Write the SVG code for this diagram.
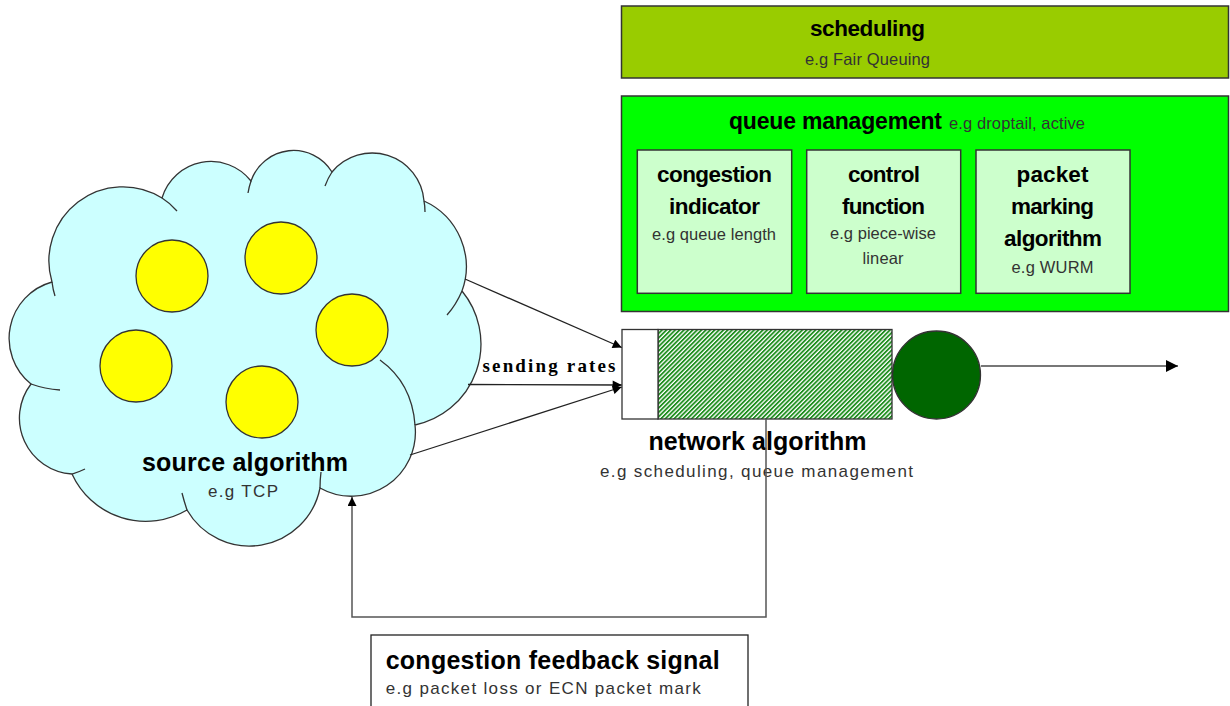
<svg xmlns="http://www.w3.org/2000/svg" width="1230" height="706" viewBox="0 0 1230 706">
  <style>
    .box { stroke: #333; stroke-width: 1.5; }
    .h { font-family: "Liberation Sans", Arial, sans-serif; font-weight: bold; fill: #000; text-anchor: middle; }
    .s { font-family: "Liberation Sans", Arial, sans-serif; fill: #333; text-anchor: middle; }
    .edge { fill: none; stroke: #222; stroke-width: 1.3; }
    .stub { fill: none; stroke: #333; stroke-width: 1.3; }
    .node-yellow { fill: #FFFF00; stroke: #333; stroke-width: 1.3; }
  </style>
  <defs>
    <pattern id="hatch" patternUnits="userSpaceOnUse" width="3.1" height="3.1" patternTransform="rotate(45)">
      <rect width="3.1" height="3.1" fill="#ffffff"/>
      <rect width="1.8" height="3.1" fill="#1f8f1f"/>
    </pattern>
    <marker id="ah" viewBox="0 0 10 10" refX="10" refY="5" markerWidth="11" markerHeight="9" orient="auto" markerUnits="userSpaceOnUse">
      <path d="M0,0 L10,5 L0,10 z" fill="#000"/>
    </marker>
    <marker id="ahBig" viewBox="0 0 10 10" refX="10" refY="5" markerWidth="12" markerHeight="12" orient="auto" markerUnits="userSpaceOnUse">
      <path d="M0,0 L10,5 L0,10 z" fill="#000"/>
    </marker>
  </defs>

  <rect width="1230" height="706" fill="#ffffff"/>

  <!-- source algorithm: cloud of sources -->
  <g id="source-algorithm">
    <path d="M31,384 A58.5,58.5 0 0 1 52,282 A74,74 0 0 1 162,198 A51,51 0 0 1 251,181 A45,45 0 0 1 332,172 A52,52 0 0 1 424,201 A72,72 0 0 1 462,291 A83,83 0 0 1 415,425 A64,64 0 0 1 320,488 A72,72 0 0 1 187,510 A81,81 0 0 1 72,474 A56,56 0 0 1 31,384 Z" fill="#CCFFFF" stroke="#333" stroke-width="1.3"/>
    <path class="stub" d="M52,282 Q53,290 55,296"/>
    <path class="stub" d="M162,198 Q170,203 177,211"/>
    <path class="stub" d="M251,181 Q249,187 248,193"/>
    <path class="stub" d="M332,172 Q328,178 325,186"/>
    <path class="stub" d="M424,201 Q425,206 425,212"/>
    <path class="stub" d="M462,291 Q456,305 447,315"/>
    <path class="stub" d="M415,425 Q412,383 380,360"/>
    <path class="stub" d="M320,488 Q320,480 321,472"/>
    <path class="stub" d="M187,510 Q184,501 182,493"/>
    <path class="stub" d="M72,474 Q79,472 85,469"/>
    <path class="stub" d="M31,384 Q45,389 60,390"/>
    <circle class="node-yellow" cx="172" cy="276" r="36"/>
    <circle class="node-yellow" cx="281" cy="258" r="36"/>
    <circle class="node-yellow" cx="352" cy="330" r="36"/>
    <circle class="node-yellow" cx="136" cy="366" r="36"/>
    <circle class="node-yellow" cx="262" cy="402" r="36"/>
    <text class="h" x="245" y="471" font-size="25" textLength="206">source algorithm</text>
    <text class="s" x="243" y="497" font-size="17" textLength="70">e.g TCP</text>
  </g>

  <!-- scheduling -->
  <g id="scheduling">
    <rect class="box" x="621.5" y="6" width="607" height="72" fill="#99CC00"/>
    <text class="h" x="867.5" y="36" font-size="22.5" textLength="115">scheduling</text>
    <text class="s" x="867.5" y="65" font-size="16.5" textLength="125">e.g Fair Queuing</text>
  </g>

  <!-- queue management -->
  <g id="queue-management">
    <rect class="box" x="621.5" y="96" width="607" height="215.5" fill="#00FF00"/>
    <text x="729" y="129" font-family="Liberation Sans, Arial, sans-serif">
      <tspan font-weight="bold" font-size="23" fill="#000" textLength="213">queue management</tspan>
      <tspan x="949" font-size="16.5" fill="#333" textLength="136">e.g droptail, active</tspan>
    </text>
  </g>

  <g id="congestion-indicator">
    <rect class="box" x="637.3" y="150" width="154.4" height="143.3" fill="#CCFFCC"/>
    <text class="h" x="714.5" y="181.5" font-size="22.5" textLength="115">congestion</text>
    <text class="h" x="714.5" y="214" font-size="22.5" textLength="91">indicator</text>
    <text class="s" x="714" y="240" font-size="16.5" textLength="124">e.g queue length</text>
  </g>

  <g id="control-function">
    <rect class="box" x="806.7" y="150" width="154" height="143.3" fill="#CCFFCC"/>
    <text class="h" x="884" y="181.5" font-size="22.5" textLength="72">control</text>
    <text class="h" x="883.5" y="214" font-size="22.5" textLength="83">function</text>
    <text class="s" x="883" y="238.5" font-size="16.5" textLength="106">e.g piece-wise</text>
    <text class="s" x="883" y="264" font-size="16.5" textLength="41">linear</text>
  </g>

  <g id="packet-marking-algorithm">
    <rect class="box" x="976" y="150" width="154" height="143.3" fill="#CCFFCC"/>
    <text class="h" x="1052.5" y="181.5" font-size="22.5" textLength="72">packet</text>
    <text class="h" x="1052.5" y="214" font-size="22.5" textLength="83">marking</text>
    <text class="h" x="1053" y="246" font-size="22.5" textLength="98">algorithm</text>
    <text class="s" x="1052.5" y="273" font-size="16.5" textLength="82">e.g WURM</text>
  </g>

  <!-- network algorithm: queue buffer and server -->
  <g id="network-algorithm">
    <rect x="658" y="329.5" width="234" height="89.5" fill="url(#hatch)" stroke="#333" stroke-width="1.3"/>
    <rect x="622" y="329.5" width="36" height="89.5" fill="#ffffff" stroke="#333" stroke-width="1.3"/>
    <circle cx="936.5" cy="375" r="44" fill="#006600" stroke="#333" stroke-width="1.3"/>
    <text class="h" x="757.5" y="450" font-size="25" textLength="218">network algorithm</text>
    <text class="s" x="756.5" y="477" font-size="17" textLength="313">e.g scheduling, queue management</text>
  </g>

  <!-- congestion feedback signal -->
  <g id="congestion-feedback-signal">
    <rect x="371" y="635" width="377" height="80" fill="#ffffff" stroke="#222" stroke-width="1.3"/>
    <text class="h" x="385.7" y="669" font-size="25" style="text-anchor:start" textLength="334">congestion feedback signal</text>
    <text class="s" x="385.7" y="694" font-size="17" style="text-anchor:start" textLength="315">e.g packet loss or ECN packet mark</text>
  </g>

  <!-- connectors -->
  <g id="connectors">
    <line class="edge" x1="465" y1="279" x2="621.7" y2="347.5" marker-end="url(#ah)"/>
    <line class="edge" x1="468" y1="384.5" x2="621.7" y2="385" marker-end="url(#ah)"/>
    <line class="edge" x1="410" y1="455" x2="621.7" y2="387" marker-end="url(#ah)"/>
    <text x="549" y="372" font-family="Liberation Serif, 'Times New Roman', serif" font-weight="bold" font-size="19" text-anchor="middle" fill="#000" textLength="133">sending rates</text>
    <line x1="981" y1="366" x2="1178" y2="366" stroke="#777" stroke-width="2" marker-end="url(#ahBig)"/>
    <path d="M766,419 V617 H352 V497" fill="none" stroke="#555" stroke-width="1.5" marker-end="url(#ah)"/>
  </g>
</svg>
